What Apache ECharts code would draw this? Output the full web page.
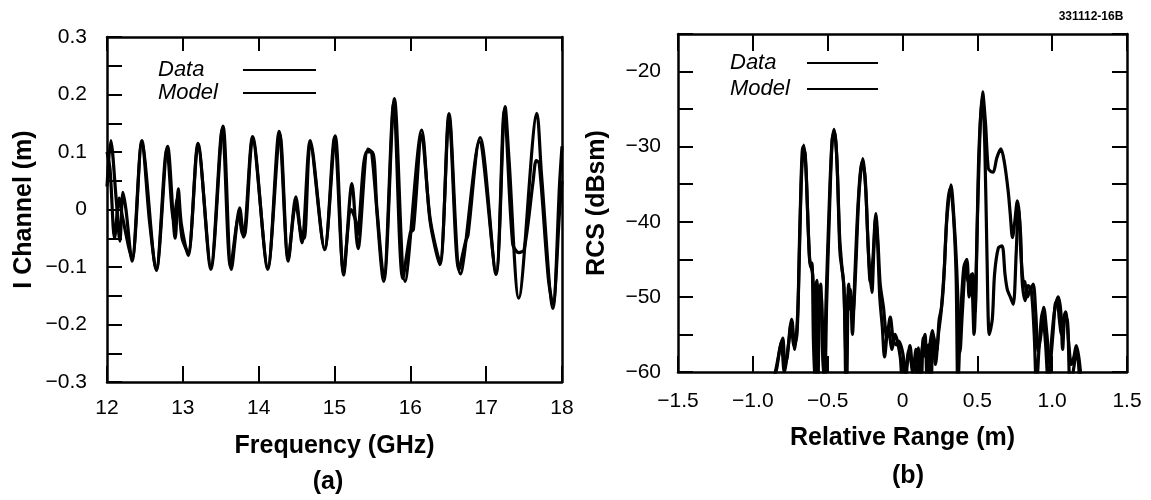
<!DOCTYPE html>
<html>
<head>
<meta charset="utf-8">
<script src="https://cdn.jsdelivr.net/npm/echarts@6/dist/echarts.min.js"></script>
<style>
  html, body { margin: 0; padding: 0; background: #fff; }
  #chart { width: 1151px; height: 500px; }
</style>
</head>
<body>
<div id="chart"></div>
<script>
// (a) I channel vs frequency
var freq = [12.00, 12.05, 12.12, 12.17, 12.21, 12.25, 12.33, 12.46, 12.56, 12.65, 12.80, 12.90, 12.94, 12.98, 13.07,
  13.20, 13.37, 13.53, 13.64, 13.75, 13.80, 13.92, 14.12, 14.27, 14.39, 14.49, 14.57, 14.68, 14.87, 15.01,
  15.12, 15.23, 15.31, 15.44, 15.49, 15.65, 15.79, 15.93, 16.15, 16.26, 16.39, 16.51, 16.66, 16.92, 17.13,
  17.25, 17.30, 17.43, 17.67, 17.73, 17.88, 17.97, 18.00];
var iData = [0.04, 0.12, 0.02, -0.055, 0.03, 0.0, -0.09, 0.12, -0.02, -0.106, 0.11, -0.05, 0.036, -0.025, -0.08,
  0.115, -0.104, 0.145, -0.104, 0.003, -0.048, 0.127, -0.104, 0.136, -0.09, 0.022, -0.058, 0.12, -0.068, 0.128,
  -0.114, 0.045, -0.068, 0.105, 0.10, -0.125, 0.193, -0.125, 0.138, -0.02, -0.096, 0.167, -0.112, 0.125, -0.113,
  0.179, 0.09, -0.154, 0.167, 0.06, -0.172, 0.05, 0.11];
var freqM = [12.00, 12.04, 12.10, 12.16, 12.20, 12.33, 12.46, 12.65, 12.79, 12.88, 12.93, 12.99, 13.07, 13.20, 13.37,
  13.52, 13.63, 13.74, 13.78, 13.81, 13.92, 14.12, 14.28, 14.39, 14.49, 14.56, 14.60, 14.68, 14.87, 15.00,
  15.12, 15.22, 15.28, 15.30, 15.42, 15.50, 15.56, 15.65, 15.78, 15.90, 16.00, 16.04, 16.15, 16.26, 16.39,
  16.51, 16.64, 16.73, 16.76, 16.91, 17.13, 17.24, 17.35, 17.43, 17.50, 17.62, 17.66, 17.70, 17.82, 17.88,
  17.97, 18.00];
var iModel = [0.10, 0.07, -0.05, 0.02, -0.01, -0.085, 0.115, -0.104, 0.105, -0.02, 0.02, -0.05, -0.075, 0.11, -0.098,
  0.14, -0.10, -0.01, -0.04, -0.045, 0.122, -0.10, 0.13, -0.085, 0.01, -0.045, -0.05, 0.115, -0.07, 0.125,
  -0.108, 0.0, -0.02, -0.045, 0.10, 0.10, 0.0, -0.118, 0.185, -0.12, -0.04, -0.035, 0.13, -0.015, -0.09,
  0.16, -0.105, -0.055, -0.045, 0.118, -0.108, 0.172, -0.06, -0.075, -0.07, 0.05, 0.085, 0.08, -0.12, -0.165,
  0.0, 0.05];

// (b) RCS vs relative range
var range = [-0.86, -0.84, -0.82, -0.80, -0.785, -0.77, -0.745, -0.725, -0.705, -0.69, -0.675, -0.66, -0.645, -0.63,
  -0.615, -0.605, -0.595, -0.583, -0.572, -0.56, -0.547, -0.535, -0.52, -0.507, -0.49, -0.472, -0.457, -0.44,
  -0.425, -0.417, -0.395, -0.383, -0.373, -0.36, -0.34, -0.328, -0.313, -0.29, -0.265, -0.245, -0.227, -0.205,
  -0.19, -0.178, -0.163, -0.149, -0.127, -0.105, -0.082, -0.06, -0.04, -0.027, 0.007, 0.02, 0.04, 0.06, 0.08,
  0.106, 0.125, 0.139, 0.155, 0.172, 0.19, 0.206, 0.228, 0.245, 0.261, 0.275, 0.295, 0.324, 0.345, 0.362,
  0.375, 0.384, 0.40, 0.424, 0.44, 0.451, 0.469, 0.485, 0.495, 0.51, 0.535, 0.555, 0.573, 0.59, 0.606, 0.63,
  0.657, 0.68, 0.706, 0.72, 0.735, 0.75, 0.768, 0.78, 0.79, 0.805, 0.817, 0.835, 0.85, 0.873, 0.89, 0.906,
  0.925, 0.944, 0.965, 0.984, 1.005, 1.02, 1.033, 1.048, 1.062, 1.075, 1.09, 1.11, 1.128, 1.145, 1.161,
  1.178, 1.194];
var rcsData = [-61, -59.5, -57, -55.5, -59, -58, -53.5, -56.5, -55, -45, -34, -29.8, -33, -41,
  -46, -45.5, -56, -62, -47.8, -50, -48.3, -57, -62, -51, -40, -30, -27.7, -31,
  -40, -44.3, -47.8, -55, -62, -48.3, -52, -51.9, -46.5, -36, -31.6, -36, -44.3, -49.4,
  -43, -38.9, -43, -48.3, -51.4, -55.4, -52.7, -55.9, -56.4, -55.9, -58.1, -62, -57.2, -59, -62,
  -56.8, -62, -55.5, -58, -56.4, -62, -55, -57.2, -53, -51.4, -48, -40, -35.1, -40, -46.1,
  -53, -57.4, -52, -45.6, -48, -47.8, -46.9, -52, -45, -31, -22.7, -27, -32.9, -33.3, -33.4, -31.5,
  -30.3, -32, -35.9, -39, -42.1, -40, -37.2, -39, -43.8, -47.8, -48, -50, -49.2, -48.3, -52, -57.2,
  -55, -51.4, -55, -59, -55, -51, -50.5, -53, -55, -53, -52, -56, -59, -58, -56.5,
  -58, -61];
var rangeM = [-0.88, -0.85, -0.83, -0.81, -0.79, -0.76, -0.74, -0.72, -0.70, -0.685, -0.665, -0.65, -0.635, -0.62,
  -0.60, -0.588, -0.575, -0.565, -0.552, -0.54, -0.525, -0.51, -0.49, -0.47, -0.455, -0.438, -0.42, -0.405,
  -0.39, -0.378, -0.365, -0.35, -0.335, -0.318, -0.295, -0.27, -0.25, -0.232, -0.215, -0.198, -0.18, -0.168,
  -0.152, -0.135, -0.12, -0.095, -0.07, -0.05, -0.015, 0.0, 0.03, 0.05, 0.07, 0.09, 0.115, 0.13, 0.15,
  0.165, 0.18, 0.20, 0.22, 0.24, 0.258, 0.28, 0.30, 0.32, 0.34, 0.358, 0.37, 0.39, 0.41, 0.43, 0.445,
  0.46, 0.478, 0.50, 0.52, 0.535, 0.55, 0.565, 0.58, 0.60, 0.615, 0.64, 0.665, 0.685, 0.70, 0.72, 0.74,
  0.76, 0.775, 0.79, 0.80, 0.82, 0.84, 0.86, 0.88, 0.895, 0.915, 0.935, 0.955, 0.975, 0.995, 1.015,
  1.04, 1.058, 1.07, 1.085, 1.10, 1.12, 1.14, 1.165, 1.185];
var rcsModel = [-62, -60, -58, -56, -60, -56, -53, -57, -52, -40, -30, -31, -38, -45,
  -47, -52, -48, -62, -49, -50.5, -60, -50, -38, -29, -28, -32, -42, -46,
  -49, -62, -50, -49, -55, -47, -37, -32, -34, -42, -48, -45, -39.5, -42,
  -50, -54, -58, -54, -57, -55, -58, -62, -59, -56.5, -60, -57, -62, -57, -55,
  -62, -57, -54.5, -59, -55, -52, -46, -38, -35.5, -39, -47, -62, -52, -46, -45, -50,
  -47, -55, -40, -27, -23.5, -30, -45, -55, -53, -47, -43.5, -43.2, -47, -49, -50, -51,
  -44, -38, -42, -48, -50.5, -48.5, -49, -55, -62, -56, -52, -56, -62, -56, -52,
  -50, -52, -57, -53, -53, -62, -60, -57, -62];

var FONT = 'Liberation Sans, Arial, sans-serif';

function pairs(xs, ys) {
  return xs.map(function (x, i) { return [x, ys[i]]; });
}
function minus(v) { return (v < 0 ? '\u2212' : '') + Math.abs(v); }

var fmtI = function (v) {
  var k = Math.round(v * 100);
  if (k % 10 !== 0) return '';
  if (k === 0) return '0';
  return (k < 0 ? '\u2212' : '') + (Math.abs(k) / 100).toFixed(1);
};
var fmtRcs = function (v) { return Math.round(v) % 10 === 0 ? minus(Math.round(v)) : ''; };
var fmtRange = function (v) {
  if (Math.abs(v) < 1e-9) return '0';
  return (v < 0 ? '\u2212' : '') + Math.abs(v).toFixed(1);
};

var black = '#000';
var axisLine = { show: true, onZero: false, lineStyle: { color: black, width: 2.5 } };
var labelStyle = { color: black, fontSize: 21, fontFamily: FONT };
var nameStyle = { color: black, fontSize: 25, fontWeight: 'bold', fontFamily: FONT };

function box(extra) {
  var o = {
    type: 'value',
    axisLine: axisLine,
    splitLine: { show: false },
    axisTick: { show: true, inside: true, length: 15, lineStyle: { color: black, width: 2 } },
    axisLabel: Object.assign({ show: true }, labelStyle)
  };
  return Object.assign(o, extra);
}

function legendAt(left, top, gap, lineW, textW) {
  return {
    data: ['Data', 'Model'], orient: 'vertical', align: 'right', left: left, top: top,
    padding: 0, itemGap: gap, itemWidth: lineW, itemHeight: 14,
    lineStyle: { width: 2, color: black },
    itemStyle: { opacity: 0 },
    selectedMode: false,
    formatter: '{t|{name}}',
    textStyle: { rich: { t: { width: textW, align: 'left', fontSize: 22, lineHeight: 22, fontStyle: 'italic', fontFamily: FONT, color: black } } }
  };
}

function curve(name, xi, xs, ys) {
  return {
    name: name, type: 'line', xAxisIndex: xi, yAxisIndex: xi, data: pairs(xs, ys),
    symbol: 'none', smooth: 0.3, lineStyle: { color: black, width: 3.2 }, itemStyle: { color: black }
  };
}

var mychart = echarts.init(document.getElementById('chart'));

var option = {
  backgroundColor: '#fff',
  animation: false,
  grid: [
    { left: 107, top: 37, width: 455, height: 345 },
    { left: 678, top: 34, width: 449, height: 338 }
  ],
  legend: [
    legendAt(158, 59, 1, 73, 80),
    legendAt(730, 52, 4, 71, 72)
  ],
  xAxis: [
    box({ gridIndex: 0, position: 'bottom', min: 12, max: 18, interval: 1,
      axisTick: { show: true, inside: true, length: 16, lineStyle: { color: black, width: 2 } },
      axisLabel: Object.assign({ margin: 16 }, labelStyle),
      name: 'Frequency (GHz)', nameLocation: 'middle', nameGap: 52, nameTextStyle: nameStyle }),
    box({ gridIndex: 0, position: 'top', min: 12, max: 18, interval: 1,
      axisTick: { show: true, inside: true, length: 14, lineStyle: { color: black, width: 2 } },
      axisLabel: { show: false } }),
    box({ gridIndex: 1, position: 'bottom', min: -1.5, max: 1.5, interval: 0.5,
      axisTick: { show: true, inside: true, length: 16, lineStyle: { color: black, width: 2 } },
      axisLabel: Object.assign({ margin: 19, formatter: fmtRange }, labelStyle),
      name: 'Relative Range (m)', nameLocation: 'middle', nameGap: 54, nameTextStyle: nameStyle }),
    box({ gridIndex: 1, position: 'top', min: -1.5, max: 1.5, interval: 0.5,
      axisTick: { show: true, inside: true, length: 17, lineStyle: { color: black, width: 2 } },
      axisLabel: { show: false } })
  ],
  yAxis: [
    box({ gridIndex: 0, position: 'left', min: -0.3, max: 0.3, interval: 0.05,
      axisLabel: Object.assign({ margin: 20, formatter: fmtI }, labelStyle),
      name: 'I Channel (m)', nameLocation: 'middle', nameGap: 70, nameTextStyle: nameStyle }),
    box({ gridIndex: 0, position: 'right', min: -0.3, max: 0.3,
      axisTick: { show: false }, axisLabel: { show: false } }),
    box({ gridIndex: 1, position: 'left', min: -60, max: -15, interval: 5,
      axisLabel: Object.assign({ margin: 17, formatter: fmtRcs }, labelStyle),
      name: 'RCS (dBsm)', nameLocation: 'middle', nameGap: 68, nameTextStyle: nameStyle }),
    box({ gridIndex: 1, position: 'right', min: -60, max: -15, interval: 5,
      axisLabel: { show: false } })
  ],
  graphic: [
    { type: 'text', x: 328, y: 482, style: { text: '(a)', fill: black, font: 'bold 25px ' + FONT, align: 'center', verticalAlign: 'middle' } },
    { type: 'text', x: 908, y: 476, style: { text: '(b)', fill: black, font: 'bold 25px ' + FONT, align: 'center', verticalAlign: 'middle' } },
    { type: 'text', x: 1091, y: 17, style: { text: '331112-16B', fill: black, font: 'bold 12px ' + FONT, align: 'center', verticalAlign: 'middle' } }
  ],
  series: [
    curve('Data', 0, freq, iData),
    curve('Model', 0, freqM, iModel),
    // the range plot uses xAxis 2 / yAxis 2
    Object.assign(curve('Data', 2, range, rcsData), {}),
    Object.assign(curve('Model', 2, rangeM, rcsModel), {})
  ]
};
mychart.setOption(option);

window.addEventListener('resize', function () {
  mychart.resize();
});
</script>
</body>
</html>
